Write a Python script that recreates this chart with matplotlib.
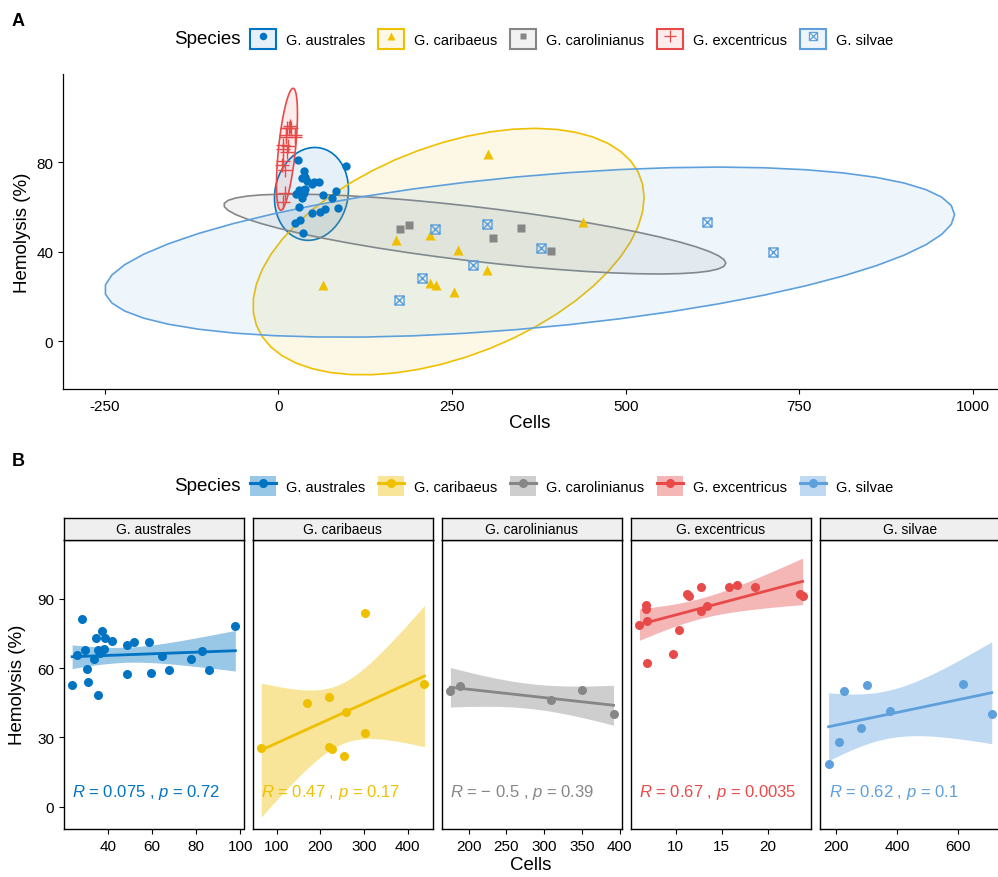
import math

import numpy as np
import matplotlib
matplotlib.use("Agg")
import matplotlib.pyplot as plt
from matplotlib.colors import to_rgba
from matplotlib.legend_handler import HandlerTuple
from matplotlib.lines import Line2D
from matplotlib.patches import Patch, Polygon
from matplotlib.path import Path

plt.rcParams["font.family"] = ["Liberation Sans", "DejaVu Sans"]
plt.rcParams["mathtext.fontset"] = "custom"
plt.rcParams["mathtext.it"] = "Liberation Sans:italic"
plt.rcParams["mathtext.rm"] = "Liberation Sans"
plt.rcParams["axes.unicode_minus"] = False

# data (Cells vs Hemolysis %)
species = ["G. australes", "G. caribaeus", "G. carolinianus", "G. excentricus", "G. silvae"]
colors = ["#0073C2", "#EFC000", "#868686", "#E84A4A", "#5DA0DC"]

australes_x = [23.7, 28.2, 26.0, 29.6, 30.5, 30.8, 33.8, 34.7, 35.3, 35.6, 37.1, 36.5, 38.0,
               38.7, 41.6, 48.4, 48.4, 51.7, 58.6, 59.6, 64.6, 67.6, 77.7, 82.7, 85.8, 97.7]
australes_y = [52.7, 81.1, 65.8, 67.7, 59.8, 54.1, 64.1, 72.9, 67.7, 48.5, 75.9, 66.4, 68.1,
               73.2, 71.6, 70.0, 57.3, 71.3, 71.2, 57.8, 65.1, 59.1, 64.1, 67.2, 59.3, 78.2]
caribaeus_x = [64.5, 170, 219, 219, 226.6, 253, 258, 301, 302, 438]
caribaeus_y = [25.2, 45.0, 47.3, 25.9, 25.0, 21.8, 40.9, 31.9, 83.8, 53.1]
carolinianus_x = [175.7, 188, 309, 350, 392]
carolinianus_y = [50.2, 52.1, 46.2, 50.5, 40.2]
excentricus_x = [6.05, 6.74, 6.74, 6.85, 6.85, 9.7, 10.3, 11.26, 11.43, 12.76, 12.76, 13.4,
                 15.84, 16.7, 18.6, 23.5, 23.8]
excentricus_y = [78.7, 87.5, 85.7, 80.5, 62.1, 66.2, 76.3, 92.1, 91.4, 95.3, 84.6, 87.0,
                 95.2, 96.2, 95.2, 92.1, 91.3]
silvae_x = [174, 207, 225, 280, 301, 378, 617, 712]
silvae_y = [18.5, 28.2, 50.1, 34.1, 52.5, 41.5, 53.1, 40.0]

r_text = ["0.075", "0.47", "\u2212 0.5", "0.67", "0.62"]
p_text = ["0.72", "0.17", "0.39", "0.0035", "0.1"]

xs = [australes_x, caribaeus_x, carolinianus_x, excentricus_x, silvae_x]
ys = [australes_y, caribaeus_y, carolinianus_y, excentricus_y, silvae_y]

facet_xticks = [[40, 60, 80, 100], [100, 200, 300, 400], [200, 250, 300, 350, 400],
                [10, 15, 20], [200, 400, 600]]

# square with a cross inside (R pch 7)
sq_cross = Path([(-1, -1), (1, -1), (1, 1), (-1, 1), (-1, -1), (-1, -1), (1, 1), (-1, 1), (1, -1)],
                [Path.MOVETO, Path.LINETO, Path.LINETO, Path.LINETO, Path.CLOSEPOLY,
                 Path.MOVETO, Path.LINETO, Path.MOVETO, Path.LINETO])
marker_a = ["o", "^", "s", "+", sq_cross]
msize_a = [6, 6.5, 5.5, 10, 6.5]
hollow = [False, False, False, True, True]


def ellipse(x, y, level=0.95, segments=51):
    # same as stat_ellipse(type = "norm")
    pts = np.column_stack([x, y])
    center = pts.mean(axis=0)
    shape = np.cov(pts, rowvar=False)
    d = len(x) - 1
    fq = d / 2 * ((1 - level) ** (-2 / d) - 1)
    radius = math.sqrt(2 * fq)
    chol = np.linalg.cholesky(shape).T
    ang = np.linspace(0, 2 * np.pi, segments + 1)
    circ = np.column_stack([np.cos(ang), np.sin(ang)])
    return center + radius * (circ @ chol)


def t_quantile(p, df):
    grid = np.linspace(0, 40, 400001)
    c = math.gamma((df + 1) / 2) / (math.sqrt(df * math.pi) * math.gamma(df / 2))
    pdf = c * (1 + grid ** 2 / df) ** (-(df + 1) / 2)
    cdf = 0.5 + np.concatenate([[0], np.cumsum((pdf[1:] + pdf[:-1]) / 2 * np.diff(grid))])
    return np.interp(p, cdf, grid)


def lm_band(x, y, npts=80):
    x = np.asarray(x, float)
    y = np.asarray(y, float)
    n = len(x)
    b1, b0 = np.polyfit(x, y, 1)
    res = y - (b0 + b1 * x)
    s = math.sqrt((res ** 2).sum() / (n - 2))
    gx = np.linspace(x.min(), x.max(), npts)
    fit = b0 + b1 * gx
    se = s * np.sqrt(1 / n + (gx - x.mean()) ** 2 / ((x - x.mean()) ** 2).sum())
    t = t_quantile(0.975, n - 2)
    return gx, fit, fit - t * se, fit + t * se


W, H = 998, 878


def box(l, t, r, b):
    return [l / W, 1 - b / H, (r - l) / W, (b - t) / H]


fig = plt.figure(figsize=(W / 100, H / 100), dpi=100)

tick_fs = 11
lab_fs = 13.5

# ---------------- panel A ----------------
axA = fig.add_axes(box(63, 75, 997, 390))
ells = [ellipse(x, y) for x, y in zip(xs, ys)]
for e, c in zip(ells, colors):
    axA.add_patch(Polygon(e, closed=True, facecolor=to_rgba(c, 0.1), edgecolor=c, lw=1.2, zorder=2))
for x, y, c, m, ms, hol in zip(xs, ys, colors, marker_a, msize_a, hollow):
    if hol:
        axA.plot(x, y, ls="none", marker=m, ms=ms, mfc="none", mec=c, mew=1.0, zorder=3)
    else:
        axA.plot(x, y, ls="none", marker=m, ms=ms, color=c, mec="none", zorder=3)

allpts = np.vstack(ells + [np.column_stack([x, y]) for x, y in zip(xs, ys)])
xmin, xmax = allpts[:, 0].min(), allpts[:, 0].max()
ymin, ymax = allpts[:, 1].min(), allpts[:, 1].max()
axA.set_xlim(xmin - 0.05 * (xmax - xmin), xmax + 0.05 * (xmax - xmin))
axA.set_ylim(ymin - 0.05 * (ymax - ymin), ymax + 0.05 * (ymax - ymin))
axA.set_xticks([-250, 0, 250, 500, 750, 1000])
axA.set_yticks([0, 40, 80])
for sp in ["top", "right"]:
    axA.spines[sp].set_visible(False)
for sp in ["left", "bottom"]:
    axA.spines[sp].set_linewidth(0.9)
axA.tick_params(direction="out", length=3.5, width=0.8, labelsize=tick_fs, colors="black")
axA.set_xlabel("Cells", fontsize=lab_fs, labelpad=1)
axA.set_ylabel("Hemolysis (%)", fontsize=lab_fs, labelpad=4)

fig.text(18 / W, 1 - 22 / H, "A", fontsize=13, fontweight="bold", ha="center", va="center")

hA = []
for c, m, ms, hol in zip(colors, marker_a, msize_a, hollow):
    patch = Patch(facecolor=to_rgba(c, 0.1), edgecolor=c, lw=1.5)
    if hol:
        pt = Line2D([], [], ls="none", marker=m, ms=ms * 0.9, mfc="none", mec=c, mew=0.9)
    else:
        pt = Line2D([], [], ls="none", marker=m, ms=ms * 0.9, color=c, mec="none")
    hA.append((patch, pt))

leg_kw = dict(ncol=5, frameon=False, fontsize=10.5, handlelength=1.75, handleheight=1.75,
              handletextpad=0.7, columnspacing=0.9, borderpad=0, borderaxespad=0,
              handler_map={tuple: HandlerTuple(ndivide=1, pad=0)})
fig.legend(hA, species, loc="center left", bbox_to_anchor=(250 / W, 1 - 40 / H), **leg_kw)
fig.text(241 / W, 1 - 40 / H, "Species", fontsize=13.5, ha="right", va="center")

# ---------------- panel B ----------------
fig.text(18 / W, 1 - 462 / H, "B", fontsize=13, fontweight="bold", ha="center", va="center")

hB = []
for c in colors:
    patch = Patch(facecolor=to_rgba(c, 0.4), edgecolor="none")
    ln = Line2D([], [], color=c, lw=2.2, marker="o", ms=5.5)
    hB.append((patch, ln))
fig.legend(hB, species, loc="center left", bbox_to_anchor=(250 / W, 1 - 487 / H), **leg_kw)
fig.text(241 / W, 1 - 487 / H, "Species", fontsize=13.5, ha="right", va="center")

fw, gap = 179.5, 9.6
for i, (x, y, c) in enumerate(zip(xs, ys, colors)):
    l = 64 + i * (fw + gap)
    ax = fig.add_axes(box(l, 541, l + fw, 830))
    gx, fit, lo, hi = lm_band(x, y)
    ax.fill_between(gx, lo, hi, color=c, alpha=0.4, lw=0, zorder=1)
    ax.plot(gx, fit, color=c, lw=2, zorder=2)
    ax.plot(x, y, ls="none", marker="o", ms=6.5, color=c, mec="none", zorder=3)
    x0, x1 = min(x), max(x)
    ax.set_xlim(x0 - 0.05 * (x1 - x0), x1 + 0.05 * (x1 - x0))
    ax.set_ylim(-9.7, 115.5)
    ax.set_xticks(facet_xticks[i])
    ax.set_yticks([0, 30, 60, 90])
    ax.tick_params(direction="out", length=3.5, width=0.8, labelsize=tick_fs, colors="black")
    if i > 0:
        ax.tick_params(axis="y", left=False, labelleft=False)
    for sp in ax.spines.values():
        sp.set_linewidth(1.0)
    ax.text(x0, 6.5, r"$\it{R}$ = " + r_text[i] + r" , $\it{p}$ = " + p_text[i],
            color=c, fontsize=12, ha="left", va="center", zorder=4)

    sax = fig.add_axes(box(l, 519, l + fw, 541))
    sax.set_xticks([])
    sax.set_yticks([])
    sax.set_facecolor("#EFEFEF")
    for sp in sax.spines.values():
        sp.set_linewidth(1.0)
    sax.text(0.5, 0.5, species[i], fontsize=10, ha="center", va="center", transform=sax.transAxes)

fig.text(531 / W, 1 - 866 / H, "Cells", fontsize=lab_fs, ha="center", va="center")
fig.text(18 / W, 1 - 685 / H, "Hemolysis (%)", fontsize=lab_fs, ha="center", va="center",
         rotation=90)

fig.savefig("out.png", dpi=100)
